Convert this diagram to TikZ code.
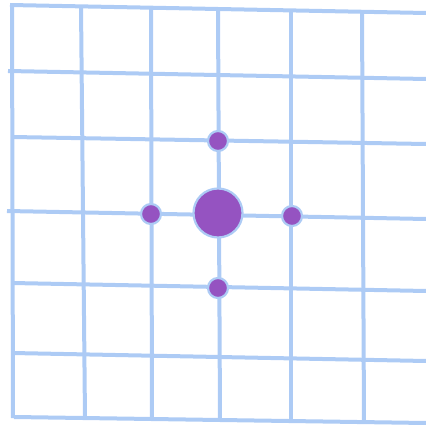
\documentclass[tikz,border=0pt]{standalone}
\definecolor{gridblue}{HTML}{ADCBF5}
\definecolor{dotpurple}{HTML}{9553C1}
\begin{document}
\begin{tikzpicture}[x=1pt,y=-1pt,
  gridline/.style={draw=gridblue,line width=4pt},
  dot/.style={circle,fill=dotpurple,draw=gridblue,line width=2.2pt,inner sep=0pt}]
\useasboundingbox (0,0) rectangle (426,425);
% horizontal lines
\draw[gridline] (10,5) -- (426,13);
\draw[gridline] (8,71) -- (426,79);
\draw[gridline] (12,137) -- (426,144);
\draw[gridline] (7,211) -- (426,219);
\draw[gridline] (12,283) -- (426,291);
\draw[gridline] (12,353) -- (426,361);
\draw[gridline] (14,417) -- (426,423);
% vertical lines
\draw[gridline] (12,5) -- (13,418);
\draw[gridline] (81,6) -- (85,419);
\draw[gridline] (151,7) -- (152,419);
\draw[gridline] (218,8) -- (220,420);
\draw[gridline] (291,10) -- (291,421);
\draw[gridline] (362,11) -- (364,422);
% dots
\node[dot,minimum size=49pt] (c) at (218,213) {};
\node[dot,minimum size=20pt] (t) at (218,141) {};
\node[dot,minimum size=20pt] (l) at (151,214) {};
\node[dot,minimum size=20pt] (r) at (292,216) {};
\node[dot,minimum size=20pt] (b) at (218,288) {};
\end{tikzpicture}
\end{document}
